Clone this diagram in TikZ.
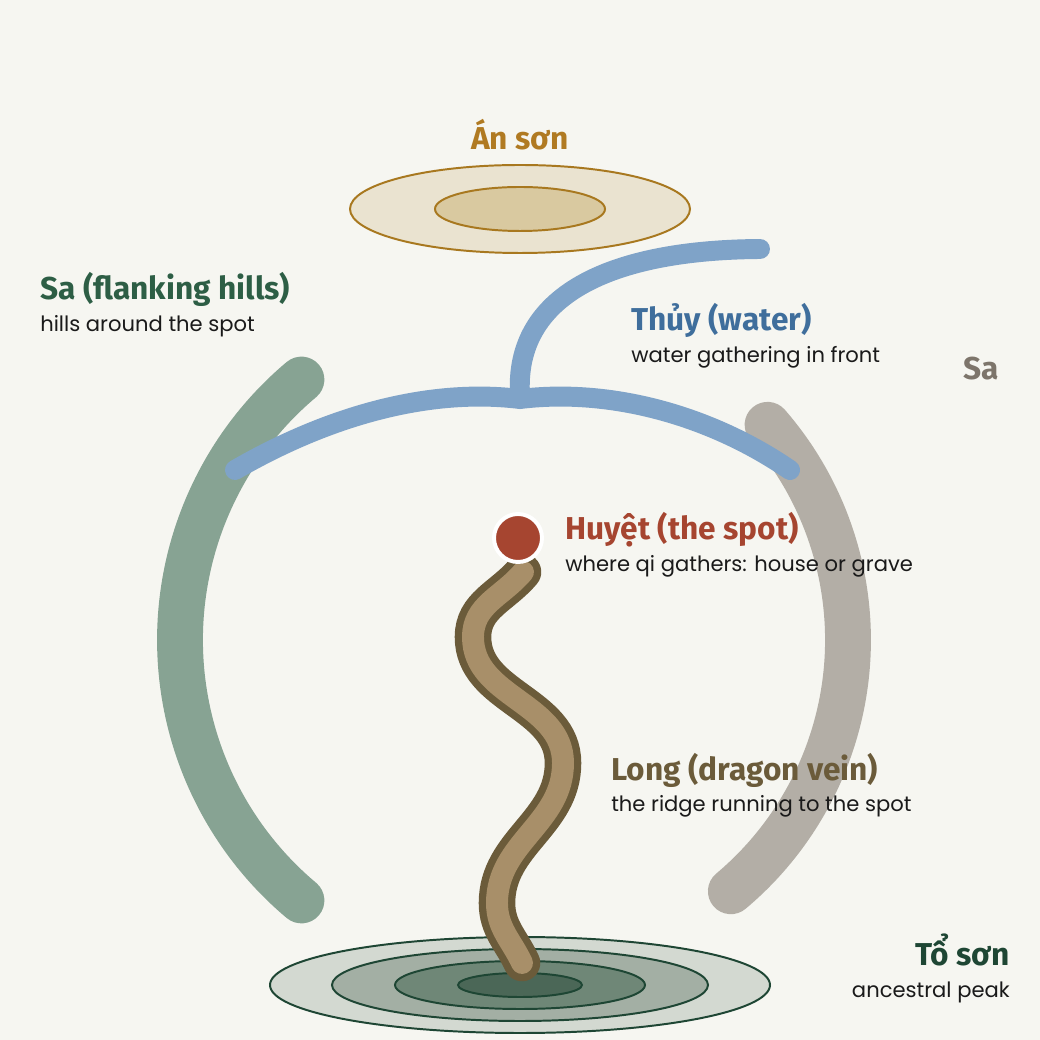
\documentclass[tikz,border=0pt]{standalone}
\usepackage{fontspec}
\setmainfont{Poppins}
\newfontfamily\headfont{Fira Sans}
\usetikzlibrary{positioning}

\definecolor{paper}{HTML}{F6F6F1}
\definecolor{ink}{HTML}{1A1A1A}
\definecolor{sagreen}{HTML}{87A393}
\definecolor{sagreendark}{HTML}{2D5E45}
\definecolor{sagrey}{HTML}{B3AEA6}
\definecolor{sagreydark}{HTML}{7D756B}
\definecolor{water}{HTML}{7FA3C8}
\definecolor{waterdark}{HTML}{3F6E9C}
\definecolor{angold}{HTML}{B07A22}
\definecolor{anline}{HTML}{A8781F}
\definecolor{anouter}{HTML}{EAE3D0}
\definecolor{aninner}{HTML}{D9C9A0}
\definecolor{huyet}{HTML}{A64530}
\definecolor{veinlight}{HTML}{A88F69}
\definecolor{veindark}{HTML}{6B5B3A}
\definecolor{toline}{HTML}{1E4634}
\definecolor{toa}{HTML}{D3D9D1}
\definecolor{tob}{HTML}{A3AFA4}
\definecolor{toc}{HTML}{6F8777}
\definecolor{tod}{HTML}{4B6757}

\begin{document}
\begin{tikzpicture}[
  x=0.025cm, y=0.025cm,
  title/.style={inner sep=0pt, font=\headfont\bfseries\fontsize{22.5}{25}\selectfont},
  note/.style={inner sep=0pt, text=ink, font=\fontsize{15}{18}\selectfont},
  hill/.style={line width=32.6pt, line cap=round},
  river/.style={line width=14.2pt, line cap=round, draw=water},
  vein/.style={draw=veindark, double=veinlight, line width=5.2pt, double distance=15.6pt, line cap=round},
  ridge/.style={line width=1.4pt}
]

% background and frame
\fill[paper] (0,0) rectangle (1040,1040);
\useasboundingbox (0,0) rectangle (1040,1040);

\coordinate (hub) at (520,400);
\coordinate (toson) at (520,55);
\coordinate (anson) at (520,831);

% An son (table mountain)
\draw[ridge, draw=anline, fill=anouter] (anson) ellipse [x radius=170, y radius=44];
\draw[ridge, draw=anline, fill=aninner] (anson) ellipse [x radius=85, y radius=22];

% To son (ancestral peak)
\draw[ridge, draw=toline, fill=toa] (toson) ellipse [x radius=250, y radius=48];
\draw[ridge, draw=toline, fill=tob] (toson) ellipse [x radius=188, y radius=36];
\draw[ridge, draw=toline, fill=toc] (toson) ellipse [x radius=125, y radius=24];
\draw[ridge, draw=toline, fill=tod] (toson) ellipse [x radius=62, y radius=12];

% Sa, the flanking hills
\draw[hill, draw=sagreen] ([shift={(130:340)}]hub) arc[start angle=130, end angle=230, radius=340];
\draw[hill, draw=sagrey] ([shift={(41:328)}]hub) arc[start angle=41, end angle=-50, radius=328];

% Thuy, the water
\coordinate (wleft) at (235,570);
\coordinate (wmid) at (520,641);
\coordinate (wright) at (790,570);
\coordinate (wsource) at (760,791);
\draw[river] (wleft) .. controls (330,625) and (430,652) .. (wmid)
  .. controls (610,652) and (710,625) .. (wright);
\draw[river] ([yshift=0.1cm]wmid) .. controls (514,745) and (610,790) .. (wsource);

% Long, the dragon vein
\coordinate (longtop) at (523,468);
\coordinate (longfoot) at (522,77);
\draw[vein] (longtop) to[out=-130,in=90] (473,403) to[out=-90,in=90] (563,277)
  to[out=-90,in=90] (497,137) to[out=-90,in=115] (longfoot);

% Huyet, the spot
\node[circle, fill=huyet, draw=white, line width=2.8pt, minimum size=1.2cm, inner sep=0pt] (spot) at (518,502) {};

% labels
\node[title, text=angold, anchor=base] (antitle) at (520,890) {Án sơn};

\node[title, text=sagreendark, anchor=base west] (satitle) at (40,740) {Sa (flanking hills)};
\node[note, anchor=base west] (sanote) at ([yshift=-0.78cm]satitle.base west) {hills around the spot};

\node[title, text=waterdark, anchor=base west] (thuytitle) at (631,709) {Thủy (water)};
\node[note, anchor=base west] (thuynote) at ([yshift=-0.78cm]thuytitle.base west) {water gathering in front};

\node[title, text=sagreydark, anchor=base west] (sagrey) at (963,660) {Sa};

\node[title, text=huyet, anchor=base west] (huyettitle) at (565,500) {Huyệt (the spot)};
\node[note, anchor=base west] (huyetnote) at ([yshift=-0.78cm]huyettitle.base west) {where qi gathers: house or grave};

\node[title, text=veindark, anchor=base west] (longtitle) at (611,259) {Long (dragon vein)};
\node[note, anchor=base west] (longnote) at ([yshift=-0.76cm]longtitle.base west) {the ridge running to the spot};

\node[title, text=toline, anchor=base east] (totitle) at (1010,74) {Tổ sơn};
\node[note, anchor=base east] (tonote) at ([yshift=-0.78cm]totitle.base east) {ancestral peak};

\end{tikzpicture}
\end{document}
